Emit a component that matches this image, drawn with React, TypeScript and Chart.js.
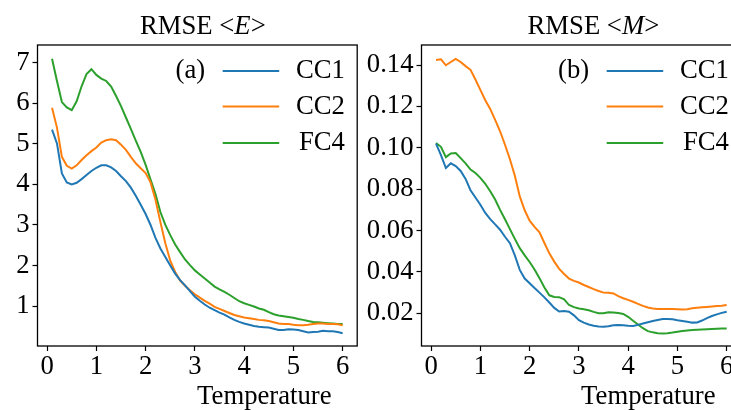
import React, { useEffect, useRef } from "react";
import { Chart, registerables } from "chart.js";

Chart.register(...registerables);

// ---------- data ----------
const temperatures = [
  0.1, 0.2, 0.3, 0.4, 0.5, 0.6, 0.7, 0.8, 0.9, 1.0,
  1.1, 1.2, 1.3, 1.4, 1.5, 1.6, 1.7, 1.8, 1.9, 2.0,
  2.1, 2.2, 2.3, 2.4, 2.5, 2.6, 2.7, 2.8, 2.9, 3.0,
  3.1, 3.2, 3.3, 3.4, 3.5, 3.6, 3.7, 3.8, 3.9, 4.0,
  4.1, 4.2, 4.3, 4.4, 4.5, 4.6, 4.7, 4.8, 4.9, 5.0,
  5.1, 5.2, 5.3, 5.4, 5.5, 5.6, 5.7, 5.8, 5.9, 6.0,
];

const seriesLabels = ["CC1", "CC2", "FC4"];

const energyCC1 = [
  5.35, 5.01, 4.27, 4.05, 4.00, 4.04, 4.13, 4.23, 4.33, 4.41,
  4.47, 4.47, 4.42, 4.33, 4.20, 4.08, 3.92, 3.72, 3.50, 3.27,
  3.00, 2.68, 2.42, 2.21, 2.00, 1.80, 1.64, 1.51, 1.37, 1.23,
  1.13, 1.04, 0.96, 0.90, 0.84, 0.79, 0.72, 0.66, 0.61, 0.57,
  0.54, 0.51, 0.49, 0.48, 0.47, 0.44, 0.41, 0.41, 0.43, 0.42,
  0.41, 0.38, 0.35, 0.36, 0.37, 0.39, 0.38, 0.38, 0.36, 0.33,
];
const energyCC2 = [
  5.89, 5.40, 4.68, 4.46, 4.39, 4.47, 4.60, 4.72, 4.82, 4.91,
  5.03, 5.09, 5.11, 5.09, 4.98, 4.85, 4.68, 4.52, 4.40, 4.28,
  4.05, 3.62, 3.07, 2.55, 2.12, 1.84, 1.63, 1.50, 1.39, 1.29,
  1.21, 1.13, 1.06, 0.98, 0.93, 0.88, 0.83, 0.78, 0.75, 0.72,
  0.70, 0.68, 0.66, 0.65, 0.63, 0.60, 0.57, 0.56, 0.56, 0.54,
  0.53, 0.53, 0.54, 0.56, 0.57, 0.57, 0.56, 0.56, 0.55, 0.53,
];
const energyFC4 = [
  7.10, 6.55, 6.03, 5.90, 5.83, 6.05, 6.42, 6.72, 6.84, 6.70,
  6.61, 6.55, 6.41, 6.18, 5.93, 5.65, 5.37, 5.08, 4.80, 4.48,
  4.12, 3.76, 3.32, 3.00, 2.75, 2.52, 2.33, 2.15, 2.01, 1.88,
  1.78, 1.68, 1.58, 1.48, 1.41, 1.35, 1.28, 1.20, 1.12, 1.07,
  1.03, 0.99, 0.94, 0.91, 0.85, 0.80, 0.77, 0.75, 0.73, 0.71,
  0.68, 0.66, 0.63, 0.61, 0.60, 0.59, 0.58, 0.57, 0.56, 0.56,
];

const magCC1 = [
  0.1020, 0.0965, 0.0902, 0.0925, 0.0912, 0.0888, 0.0850, 0.0795, 0.0760, 0.0725,
  0.0685, 0.0655, 0.0630, 0.0604, 0.0570, 0.0539, 0.0480, 0.0410, 0.0368, 0.0345,
  0.0322, 0.0300, 0.0277, 0.0252, 0.0226, 0.0209, 0.0211, 0.0208, 0.0190, 0.0167,
  0.0155, 0.0146, 0.0140, 0.0136, 0.0135, 0.0138, 0.0142, 0.0144, 0.0142, 0.0140,
  0.0139, 0.0144, 0.0151, 0.0157, 0.0163, 0.0168, 0.0173, 0.0173, 0.0171, 0.0166,
  0.0163, 0.0159, 0.0155, 0.0156, 0.0165, 0.0177, 0.0187, 0.0195, 0.0202, 0.0208,
];
const magCC2 = [
  0.1424, 0.1428, 0.1399, 0.1415, 0.1430, 0.1415, 0.1395, 0.1377, 0.1330, 0.1280,
  0.1230, 0.1188, 0.1135, 0.1080, 0.1015, 0.0945, 0.0865, 0.0765, 0.0698, 0.0648,
  0.0618, 0.0592, 0.0540, 0.0490, 0.0450, 0.0415, 0.0390, 0.0368, 0.0357, 0.0349,
  0.0337, 0.0327, 0.0317, 0.0308, 0.0300, 0.0299, 0.0296, 0.0283, 0.0273, 0.0265,
  0.0256, 0.0246, 0.0236, 0.0228, 0.0223, 0.0221, 0.0221, 0.0221, 0.0221, 0.0220,
  0.0219, 0.0220, 0.0224, 0.0227, 0.0229, 0.0231, 0.0233, 0.0235, 0.0237, 0.0240,
];
const magFC4 = [
  0.1023, 0.1005, 0.0955, 0.0973, 0.0975, 0.0950, 0.0925, 0.0895, 0.0878, 0.0855,
  0.0826, 0.0790, 0.0750, 0.0700, 0.0655, 0.0607, 0.0560, 0.0515, 0.0480, 0.0448,
  0.0412, 0.0370, 0.0325, 0.0287, 0.0279, 0.0278, 0.0268, 0.0240, 0.0230, 0.0223,
  0.0220, 0.0215, 0.0207, 0.0200, 0.0200, 0.0205, 0.0204, 0.0201, 0.0197, 0.0183,
  0.0164, 0.0146, 0.0128, 0.0114, 0.0108, 0.0104, 0.0103, 0.0104, 0.0107, 0.0111,
  0.0115, 0.0117, 0.0119, 0.0121, 0.0122, 0.0123, 0.0124, 0.0125, 0.0126, 0.0127,
];

const xTickValues = [0, 1, 2, 3, 4, 5, 6];
const xTickLabels = ["0", "1", "2", "3", "4", "5", "6"];
const energyTickValues = [1, 2, 3, 4, 5, 6, 7];
const energyTickLabels = ["1", "2", "3", "4", "5", "6", "7"];
const magTickValues = [0.02, 0.04, 0.06, 0.08, 0.1, 0.12, 0.14];
const magTickLabels = ["0.02", "0.04", "0.06", "0.08", "0.10", "0.12", "0.14"];

const xAxisLabel = "Temperature";

// ---------- styling ----------
const COLORS = ["#1f77b4", "#ff7f0e", "#2ca02c"];
const FONT = "'Liberation Serif', 'Times New Roman', serif";
const FS = 26.7;

const panelPlugin = {
  id: "panelDecor",
  afterDraw(chart: any, _args: any, opts: any) {
    const { ctx, chartArea } = chart;
    const cx = (chartArea.left + chartArea.right) / 2;
    ctx.save();
    ctx.fillStyle = "#000";

    // title with italic part
    const parts = opts.title as { t: string; italic: boolean }[];
    let total = 0;
    const widths = parts.map((p) => {
      ctx.font = `${p.italic ? "italic " : ""}${FS}px ${FONT}`;
      const w = ctx.measureText(p.t).width;
      total += w;
      return w;
    });
    let x = cx + opts.titleDx - total / 2;
    ctx.textAlign = "left";
    ctx.textBaseline = "alphabetic";
    parts.forEach((p, i) => {
      ctx.font = `${p.italic ? "italic " : ""}${FS}px ${FONT}`;
      ctx.fillText(p.t, x, opts.titleY);
      x += widths[i];
    });

    // x axis label
    ctx.font = `${FS}px ${FONT}`;
    ctx.textAlign = "center";
    ctx.fillText(opts.xLabel, cx + opts.xLabelDx, opts.xLabelY);

    // frame
    ctx.strokeStyle = "#000";
    ctx.lineWidth = 1.3;
    ctx.strokeRect(
      chartArea.left,
      chartArea.top,
      chartArea.right - chartArea.left,
      chartArea.bottom - chartArea.top
    );

    // legend
    const r = chartArea.right;
    ctx.textBaseline = "middle";
    chart.data.datasets.forEach((ds: any, i: number) => {
      const y = opts.legendY[i];
      ctx.strokeStyle = ds.borderColor;
      ctx.lineWidth = 2;
      ctx.beginPath();
      ctx.moveTo(r - opts.legLineStart, y);
      ctx.lineTo(r - opts.legLineEnd, y);
      ctx.stroke();
      ctx.textAlign = "right";
      ctx.fillStyle = "#000";
      ctx.fillText(ds.label, r - opts.legTextRight, y);
    });
    ctx.textAlign = "right";
    ctx.fillText(opts.tag, r - opts.tagRight, opts.legendY[0]);
    ctx.restore();
  },
};

type PanelCfg = {
  series: number[][];
  yMin: number;
  yMax: number;
  yTicks: number[];
  yTickLabels: string[];
  yAxisWidth: number;
  padRight: number;
  title: { t: string; italic: boolean }[];
  titleDx: number;
  tag: string;
};

function buildChart(canvas: HTMLCanvasElement, cfg: PanelCfg) {
  const tickFont = { family: FONT, size: FS };
  return new Chart(canvas, {
    type: "line",
    data: {
      datasets: cfg.series.map((vals, i) => ({
        label: seriesLabels[i],
        data: temperatures.map((t, j) => ({ x: t, y: vals[j] })),
        borderColor: COLORS[i],
        backgroundColor: COLORS[i],
        borderWidth: 2,
        pointRadius: 0,
        tension: 0,
        fill: false,
      })),
    },
    options: {
      responsive: false,
      animation: false,
      devicePixelRatio: 1,
      layout: { padding: { left: 0, right: cfg.padRight, top: 45, bottom: 0 } },
      plugins: {
        legend: { display: false },
        tooltip: { enabled: false },
        title: { display: false },
        panelDecor: {
          title: cfg.title,
          titleDx: cfg.titleDx,
          titleY: 34,
          xLabel: xAxisLabel,
          xLabelDx: 67,
          xLabelY: 404,
          legendY: [71, 106.5, 143],
          legLineStart: 134.5,
          legLineEnd: 78,
          legTextRight: 12.3,
          tagRight: 152,
          tag: cfg.tag,
        },
      } as any,
      scales: {
        x: {
          type: "linear",
          min: -0.195,
          max: 6.295,
          afterBuildTicks: (s: any) => {
            s.ticks = xTickValues.map((v) => ({ value: v }));
          },
          afterFit: (s: any) => {
            s.height = 64;
          },
          ticks: {
            font: tickFont,
            color: "#000",
            padding: 0,
            maxRotation: 0,
            autoSkip: false,
            callback: (_v: any, i: number) => xTickLabels[i],
          },
          grid: {
            drawOnChartArea: false,
            drawTicks: true,
            tickLength: 5,
            tickColor: "#000",
            tickWidth: 1.2,
          },
          border: { display: false },
        },
        y: {
          type: "linear",
          min: cfg.yMin,
          max: cfg.yMax,
          afterBuildTicks: (s: any) => {
            s.ticks = cfg.yTicks.map((v) => ({ value: v }));
          },
          afterFit: (s: any) => {
            s.width = cfg.yAxisWidth;
          },
          ticks: {
            font: tickFont,
            color: "#000",
            padding: 3,
            autoSkip: false,
            callback: (_v: any, i: number) => cfg.yTickLabels[i],
          },
          grid: {
            drawOnChartArea: false,
            drawTicks: true,
            tickLength: 5,
            tickColor: "#000",
            tickWidth: 1.2,
          },
          border: { display: false },
        },
      },
    } as any,
    plugins: [panelPlugin],
  });
}

export default function App() {
  const leftRef = useRef<HTMLCanvasElement>(null);
  const rightRef = useRef<HTMLCanvasElement>(null);

  useEffect(() => {
    const a = buildChart(leftRef.current!, {
      series: [energyCC1, energyCC2, energyFC4],
      yMin: 0.016,
      yMax: 7.437,
      yTicks: energyTickValues,
      yTickLabels: energyTickLabels,
      yAxisWidth: 37.5,
      padRight: 375 - 357.2,
      title: [
        { t: "RMSE <", italic: false },
        { t: "E", italic: true },
        { t: ">", italic: false },
      ],
      titleDx: 5.5,
      tag: "(a)",
    });
    const b = buildChart(rightRef.current!, {
      series: [magCC1, magCC2, magFC4],
      yMin: 0.0042,
      yMax: 0.1497,
      yTicks: magTickValues,
      yTickLabels: magTickLabels,
      yAxisWidth: 61.5,
      padRight: 400 - (741.2 - 360),
      title: [
        { t: "RMSE <", italic: false },
        { t: "M", italic: true },
        { t: ">", italic: false },
      ],
      titleDx: 12,
      tag: "(b)",
    });
    return () => {
      a.destroy();
      b.destroy();
    };
  }, []);

  return (
    <div
      style={{
        position: "fixed",
        left: 0,
        top: 0,
        width: 731,
        height: 410,
        overflow: "hidden",
        background: "#fff",
      }}
    >
      <canvas
        ref={leftRef}
        width={375}
        height={410}
        style={{ position: "absolute", left: 0, top: 0, width: 375, height: 410 }}
      />
      <canvas
        ref={rightRef}
        width={400}
        height={410}
        style={{ position: "absolute", left: 360, top: 0, width: 400, height: 410 }}
      />
    </div>
  );
}
